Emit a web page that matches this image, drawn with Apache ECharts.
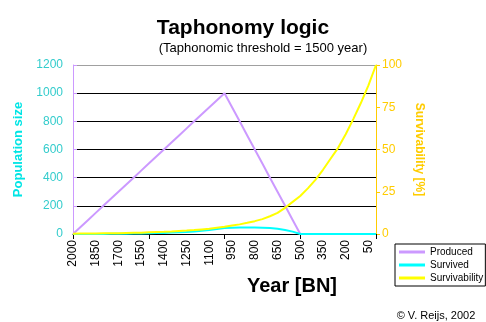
<!DOCTYPE html>
<html>
<head>
<meta charset="utf-8">
<script src="https://cdn.jsdelivr.net/npm/echarts@6/dist/echarts.min.js"></script>
<style>
html,body{margin:0;padding:0;background:#fff;}
#c{width:486px;height:322px;}
</style>
</head>
<body>
<div id="c"></div>
<script>
var years = ['2000','1950','1900','1850','1800','1750','1700','1650','1600','1550',
             '1500','1450','1400','1350','1300','1250','1200','1150','1100','1050',
             '1000','950','900','850','800','750','700','650','600','550',
             '500','450','400','350','300','250','200','150','100','50','0'];
var produced = [0,50,100,150,200,250,300,350,400,450,
                500,550,600,650,700,750,800,850,900,950,
                1000,900,800,700,600,500,400,300,200,100,
                0,0,0,0,0,0,0,0,0,0,0];
var survived = [0,0.1,0.3,0.5,0.8,1.1,1.5,2.1,2.8,3.6,
                5,6.3,7.8,9.8,12.3,15,18.4,23,28,35,
                43,45,46,46,46,44,42,37,29,17,
                0,0,0,0,0,0,0,0,0,0,0];
var survivability = [0.2,0.25,0.3,0.35,0.4,0.45,0.5,0.6,0.7,0.8,
                     1.0,1.15,1.3,1.5,1.75,2.0,2.3,2.7,3.1,3.7,
                     4.3,5.0,5.7,6.6,7.6,8.8,10.5,12.5,15.5,19,
                     22.5,27,32,38,44.5,51,59,68,77.5,88,100];
var leftTicks = {min:0, max:1200, interval:200};
var rightTicks = {min:0, max:100, interval:25};

var FF = 'Liberation Sans, Arial, sans-serif';
var chart = echarts.init(document.getElementById('c'), null, {renderer:'canvas'});
chart.setOption({
  animation:false,
  backgroundColor:'#fff',
  textStyle:{fontFamily:FF},
  title:[
    {text:'Taphonomy logic', left:238, top:13, textAlign:'center',
     textStyle:{fontSize:21, fontWeight:'bold', color:'#000', fontFamily:FF}},
    {text:'(Taphonomic threshold = 1500 year)', left:258, top:37, textAlign:'center',
     textStyle:{fontSize:13, fontWeight:'normal', color:'#000', fontFamily:FF}},
    {text:'Year [BN]', left:287, top:271, textAlign:'center',
     textStyle:{fontSize:20, fontWeight:'bold', color:'#000', fontFamily:FF}},
    {text:'\u00a9 V. Reijs, 2002', left:431, top:305, textAlign:'center',
     textStyle:{fontSize:11, fontWeight:'normal', color:'#000', fontFamily:FF}}
  ],
  legend:{
    orient:'vertical', left:395, top:244,
    padding:[3,2,3,4], itemGap:3, itemWidth:26, itemHeight:3, itemTextGap:3,
    icon:'rect',
    borderColor:'#000', borderWidth:1,
    textStyle:{fontSize:10, color:'#000', fontFamily:FF},
    data:['Produced','Survived','Survivability']
  },
  grid:{left:73, right:110, top:65, bottom:88, containLabel:false},
  xAxis:{
    type:'category', data:years, boundaryGap:false,
    axisLine:{lineStyle:{color:'#000', width:1}},
    axisTick:{show:true, interval:9, length:5, lineStyle:{color:'#000'}},
    axisLabel:{interval:2, rotate:90, margin:6, fontSize:12, color:'#000', fontFamily:FF},
    splitLine:{show:false}
  },
  yAxis:[
    {type:'value', min:leftTicks.min, max:leftTicks.max, interval:leftTicks.interval,
     name:'Population size', nameLocation:'middle', nameGap:45, nameRotate:90,
     nameTextStyle:{fontSize:13, fontWeight:'bold', color:'#00E5E5', fontFamily:FF},
     axisLine:{show:true, lineStyle:{color:'#CC99FF', width:1}},
     axisTick:{show:true, inside:true, length:4, lineStyle:{color:'#CC99FF'}},
     axisLabel:{fontSize:12, color:'#33CCCC', margin:10, fontFamily:FF,
                formatter:function(v){return String(v);}},
     splitLine:{show:true, lineStyle:{color:['#000','#000','#000','#000','#000','#000','#A0A0A0'], width:1}}
    },
    {type:'value', min:rightTicks.min, max:rightTicks.max, interval:rightTicks.interval,
     position:'right',
     name:'Survivability [%]', nameLocation:'middle', nameGap:37, nameRotate:-90,
     nameTextStyle:{fontSize:12, fontWeight:'bold', color:'#FFCC00', fontFamily:FF},
     axisLine:{show:true, lineStyle:{color:'#FFCC00', width:1}},
     axisTick:{show:true, length:4, lineStyle:{color:'#FFCC00'}},
     axisLabel:{fontSize:12, color:'#FFCC00', margin:6, fontFamily:FF},
     splitLine:{show:false}
    }
  ],
  series:[
    {name:'Produced', type:'line', data:produced, yAxisIndex:0, symbol:'none',
     lineStyle:{color:'#CC99FF', width:2}, itemStyle:{color:'#CC99FF'}},
    {name:'Survived', type:'line', data:survived, yAxisIndex:0, symbol:'none',
     lineStyle:{color:'#00FFFF', width:2}, itemStyle:{color:'#00FFFF'}},
    {name:'Survivability', type:'line', data:survivability, yAxisIndex:1, symbol:'none',
     lineStyle:{color:'#FFFF00', width:2}, itemStyle:{color:'#FFFF00'}}
  ]
});
</script>
</body>
</html>
